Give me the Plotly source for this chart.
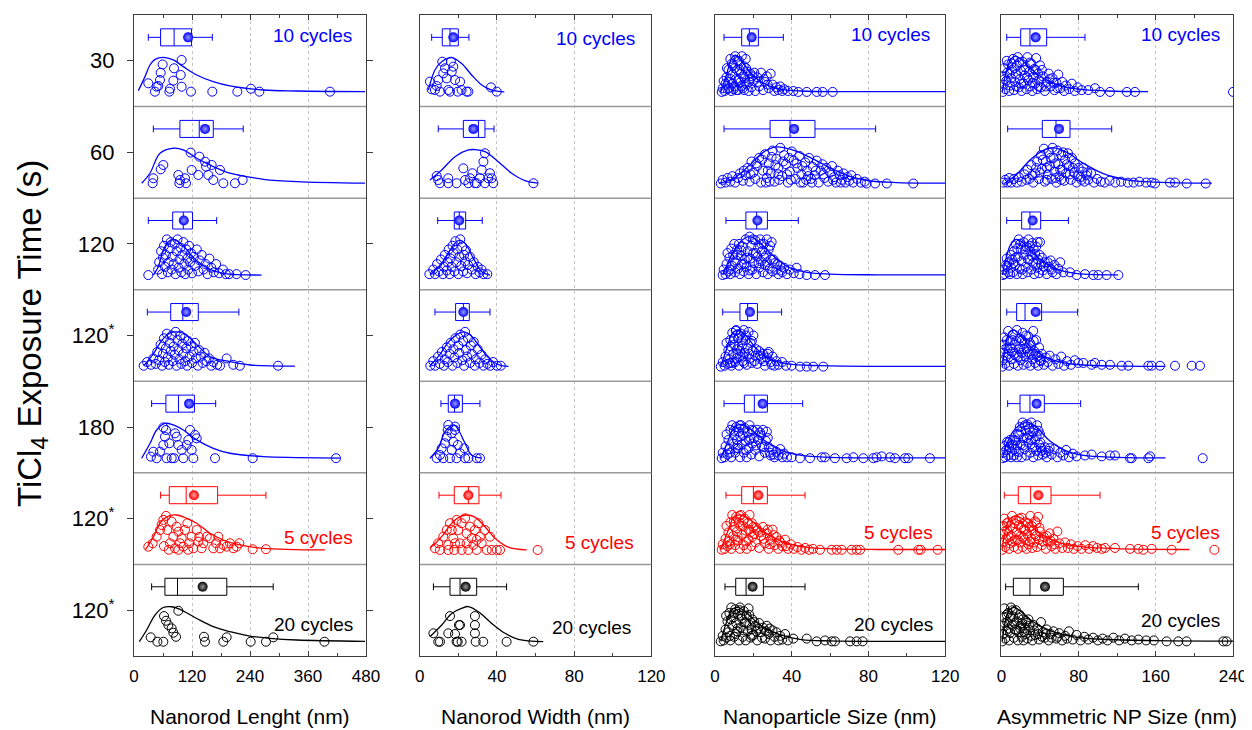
import plotly.graph_objects as go

# ---------------- data ----------------
row_labels = ["30", "60", "120", "120<sup>*</sup>", "180", "120<sup>*</sup>", "120<sup>*</sup>"]
row_colors = ["#0000ff"] * 5 + ["#ff0000", "#000000"]
row_light = ["#9a9aff"] * 5 + ["#ffa0a0", "#9a9a9a"]
cycle_labels = ["10 cycles", "5 cycles", "20 cycles"]

x_titles = ["Nanorod Lenght (nm)", "Nanorod Width (nm)", "Nanoparticle Size (nm)", "Asymmetric NP Size (nm)"]
x_max = [480, 120, 120, 240]
x_dtick = [120, 40, 40, 80]
x_minor = [60, 20, 20, 40]

# box statistics (rows top -> bottom)
length_lo = [29.6, 40, 29.6, 27.6, 36.5, 55, 36.5]
length_q1 = [55, 95, 80, 76, 66, 73, 64]
length_med = [83, 135, 102, 101, 92, 108, 90]
length_q3 = [119, 164, 121, 133, 125, 173, 192]
length_hi = [162, 226, 171, 217, 169, 273, 288]
length_mean = [112, 147, 103, 108, 114, 124, 142]

width_lo = [6.2, 9.6, 9.3, 7.9, 11, 10, 7.1]
width_q1 = [11.7, 22.6, 17.9, 18.6, 14.8, 17.9, 15.7]
width_med = [15.7, 30.4, 20.5, 22.6, 18, 25.2, 20.9]
width_q3 = [20, 33.8, 23.8, 25.7, 22.1, 30.7, 29.5]
width_hi = [25.5, 38.5, 32.4, 36.4, 31.2, 42.1, 45]
width_mean = [17.4, 27.8, 20.5, 22.6, 18.3, 25.2, 23.8]

np_lo = [4.7, 4.7, 5.7, 4, 4.7, 5.7, 5.2]
np_q1 = [13.9, 28.7, 16.1, 13, 15.3, 13.9, 10.8]
np_med = [17.9, 39.1, 21.7, 17, 20.5, 20, 16.2]
np_q3 = [22.6, 52.1, 27.3, 22.1, 27.3, 27.3, 25.2]
np_hi = [35.6, 83.7, 43.4, 34.7, 45.7, 46.9, 46.9]
np_mean = [19.1, 41.2, 22.1, 18.2, 24.8, 22.6, 19.6]

asym_lo = [5.5, 6.5, 5.5, 5.5, 6.5, 3, 4.4]
asym_q1 = [20, 42.4, 21, 15.8, 19.3, 17.5, 12.4]
asym_med = [29.6, 56.6, 29.6, 24.5, 29.6, 30.3, 29.6]
asym_q3 = [46.9, 71.1, 40.7, 41.7, 44.5, 51.4, 64.2]
asym_hi = [86.6, 114.3, 69.4, 79, 82.1, 102.2, 141.9]
asym_mean = [35.5, 59.7, 32.4, 35.5, 36.5, 38.3, 45.2]

# fitted distribution curves: (size, relative height in row)
length_fit = [
    [(9, .174), (22.8, .327), (33, .454), (43.5, .516), (60.7, .538), (81.4, .509), (102, .436), (129.7, .345), (164, .272), (198.6, .225), (267.6, .181), (336.6, .17), (478, .163)],
    [(15.9, .163), (33, .272), (53.8, .49), (81.4, .545), (102, .526), (129.7, .436), (164, .345), (198.6, .272), (233, .236), (267.6, .206), (336.6, .18), (478, .163)],
    [(40, .16), (50.3, .251), (60.7, .433), (71, .524), (80, .55), (91.7, .524), (109, .436), (129.7, .317), (157.3, .222), (184.8, .179), (264, .16)],
    [(20, .17), (40, .3), (58, .45), (72, .52), (85, .54), (100, .53), (112, .49), (130, .40), (157, .27), (199, .214), (240, .178), (333, .166)],
    [(15.9, .16), (33, .32), (46.9, .468), (64.1, .54), (81.4, .523), (102, .468), (129.7, .36), (164, .268), (198.6, .214), (267.6, .177), (336.6, .167), (426, .16)],
    [(23.4, .158), (40, .30), (53.8, .45), (67.6, .52), (88.3, .54), (109, .504), (129.7, .45), (157.3, .34), (184.8, .267), (219.3, .213), (267.6, .176), (395, .158)],
    [(11, .156), (26.2, .284), (43.4, .447), (60.7, .53), (77.9, .538), (95.2, .51), (129.7, .41), (164, .32), (198.6, .265), (240, .218), (281.4, .193), (336.6, .175), (478, .16)],
]
width_fit = [
    [(4.5, .18), (7.9, .40), (11.4, .49), (16.6, .534), (21.7, .47), (26.9, .345), (32.1, .236), (37.3, .18), (43.8, .16)],
    [(5.3, .198), (11.4, .308), (18.3, .453), (25.2, .526), (28.6, .53), (33.8, .508), (40.7, .398), (47.6, .272), (54.5, .192), (61.4, .163)],
    [(5.3, .16), (11.4, .288), (15.7, .433), (20.1, .54), (23.5, .506), (27.8, .343), (32.1, .196), (36.4, .16)],
    [(5, .16), (10, .28), (15, .43), (20, .52), (23, .54), (27, .49), (31, .38), (36, .25), (41, .18), (46, .163)],
    [(5.3, .16), (9.6, .27), (13.1, .45), (15.7, .505), (17.9, .523), (20.1, .468), (23.5, .323), (26.9, .195), (32.1, .16)],
    [(5.3, .176), (11.4, .303), (16.6, .45), (20.9, .522), (24.3, .54), (28.6, .516), (33.8, .412), (39, .286), (45.9, .188), (55.4, .158)],
    [(5.3, .21), (11.4, .338), (16.6, .465), (21.7, .52), (25.2, .54), (30.4, .483), (37.3, .356), (44.2, .248), (51.1, .182), (64, .156)],
]
np_fit = [
    [(3, .16), (6, .35), (9, .54), (11, .56), (14, .5), (18, .38), (24, .27), (32, .2), (45, .17), (70, .163), (120, .163)],
    [(2, .16), (10, .22), (18, .36), (25, .5), (32, .56), (40, .53), (50, .44), (60, .33), (70, .24), (80, .19), (95, .17), (120, .163)],
    [(4, .16), (8, .35), (13, .52), (18, .58), (23, .52), (30, .38), (38, .25), (48, .19), (60, .17), (85, .163), (120, .163)],
    [(3, .16), (6, .35), (9, .52), (12, .56), (16, .5), (21, .37), (28, .25), (38, .19), (55, .17), (85, .163), (120, .163)],
    [(3, .16), (7, .36), (10, .5), (14, .53), (19, .47), (26, .35), (34, .25), (45, .19), (60, .17), (85, .163), (120, .163)],
    [(3, .16), (7, .38), (10, .52), (14, .54), (19, .48), (26, .35), (35, .25), (47, .19), (62, .17), (85, .163), (120, .163)],
    [(3, .16), (6, .37), (9, .51), (12, .53), (17, .46), (24, .33), (33, .24), (45, .18), (60, .165), (85, .16), (120, .16)],
]
asym_fit = [
    [(1, .16), (5, .38), (10, .52), (15, .55), (22, .5), (32, .4), (45, .3), (60, .23), (80, .19), (110, .17), (152, .163)],
    [(3, .16), (15, .25), (30, .42), (45, .53), (55, .55), (68, .5), (85, .38), (105, .27), (130, .2), (160, .175), (218, .163)],
    [(1, .16), (5, .35), (10, .5), (16, .55), (24, .5), (35, .38), (50, .26), (65, .2), (85, .17), (121, .163)],
    [(1, .16), (4, .38), (8, .53), (13, .56), (20, .5), (30, .38), (45, .27), (65, .2), (90, .175), (130, .165), (170, .163)],
    [(1, .16), (5, .3), (12, .45), (20, .53), (28, .55), (38, .48), (50, .35), (65, .25), (85, .19), (120, .17), (170, .163)],
    [(1, .16), (4, .37), (9, .5), (15, .53), (23, .49), (35, .38), (50, .28), (70, .21), (100, .18), (140, .167), (195, .163)],
    [(1, .16), (4, .38), (8, .5), (13, .53), (20, .49), (32, .38), (50, .28), (75, .21), (110, .18), (160, .168), (240, .163)],
]

# individual measurements: (size, relative stacking height in row)
length_pts = [
    [(29.6, .254), (43.4, .163), (46.9, .217), (50.3, .225), (53.8, .29), (55.2, .37), (59.3, .46), (73.1, .163), (74.5, .195), (81.4, .283), (82.8, .418), (98.6, .509), (96.6, .345), (98.6, .217), (117.9, .163), (162, .163), (213.8, .163), (242, .195), (259.3, .163), (405.5, .163)],
    [(40, .217), (38.6, .163), (60.7, .362), (55.2, .315), (91.7, .253), (95.2, .198), (105.5, .217), (107.6, .163), (93.8, .163), (117.2, .497), (119.3, .308), (133.1, .253), (135.2, .453), (147, .398), (149, .344), (153.8, .253), (160.7, .362), (164, .198), (177.9, .308), (184.8, .163), (208.9, .163), (224.8, .198)],
    [(29.6, .16), (50, .22), (52, .30), (56, .42), (58, .17), (60, .35), (62, .48), (64, .25), (66, .38), (68, .55), (70, .19), (72, .30), (74, .45), (76, .52), (78, .22), (80, .36), (82, .28), (84, .50), (86, .17), (88, .42), (90, .55), (92, .24), (94, .33), (96, .46), (98, .19), (100, .38), (102, .52), (104, .28), (106, .17), (108, .44), (110, .34), (112, .22), (114, .48), (116, .30), (118, .40), (120, .18), (124, .36), (126, .26), (130, .44), (133, .20), (136, .32), (140, .38), (144, .22), (148, .28), (152, .17), (156, .34), (160, .24), (165, .19), (170, .28), (176, .18), (184, .22), (190, .17), (197, .17), (212, .17), (231, .16)],
    [(20, .17), (27, .21), (35, .18), (40, .25), (45, .19), (48, .32), (52, .23), (55, .40), (58, .17), (60, .30), (62, .47), (64, .21), (66, .36), (68, .52), (70, .26), (72, .18), (74, .42), (76, .33), (78, .50), (80, .22), (82, .38), (84, .29), (86, .54), (88, .17), (90, .45), (92, .34), (94, .24), (96, .50), (98, .19), (100, .41), (102, .30), (104, .47), (106, .22), (108, .36), (110, .17), (112, .44), (115, .27), (118, .38), (120, .20), (123, .32), (126, .42), (128, .25), (132, .17), (135, .34), (138, .27), (142, .20), (146, .31), (150, .22), (155, .25), (160, .17), (164, .21), (172, .18), (178, .17), (191.7, .25), (205.5, .18), (219, .17), (298, .17)],
    [(35, .177), (40, .231), (46.9, .16), (53.8, .231), (60.7, .304), (64.1, .395), (60.7, .497), (66.2, .468), (73.1, .323), (82.8, .16), (84.8, .432), (91.7, .304), (98.6, .25), (102, .16), (109, .304), (112.4, .359), (119.3, .25), (122.8, .16), (126.2, .414), (129.7, .377), (167.6, .16), (245.5, .16), (418, .16), (78, .16), (67.6, .16), (88.3, .395), (115.9, .468)],
    [(29.6, .194), (38.6, .231), (46.9, .303), (53.8, .376), (57.2, .431), (60.7, .486), (66.2, .53), (69, .376), (74.5, .231), (77.9, .467), (81.4, .303), (84.8, .176), (88.3, .412), (91.7, .358), (95.2, .231), (98.6, .286), (102, .194), (105.5, .376), (110.3, .45), (114.5, .231), (119.3, .303), (122.8, .176), (129.7, .376), (133.1, .249), (140, .176), (143.5, .231), (150.4, .303), (157.3, .286), (164, .176), (169.7, .231), (174.5, .303), (177.9, .176), (184.8, .213), (191.7, .194), (198.6, .231), (205.5, .176), (212.4, .194), (217.9, .231), (245.5, .166), (273, .166), (62, .2), (72, .16), (92, .16), (112, .16), (135, .3)],
    [(34.5, .204), (48.3, .156), (60.7, .156), (62.1, .436), (66.2, .385), (71, .338), (77.9, .302), (81.4, .254), (86.9, .21), (91.7, .494), (144.8, .21), (146.9, .156), (184.8, .156), (191.7, .204), (241.4, .156), (273, .156), (288.2, .204), (394, .156)],
]
width_pts = [
    [(5.3, .272), (6.2, .188), (7.9, .181), (8.8, .225), (9.6, .29), (10.5, .163), (11.7, .49), (12.2, .363), (13.1, .418), (14, .308), (14.8, .181), (15.7, .163), (16.2, .49), (16.6, .381), (17.4, .436), (18.3, .29), (19.7, .163), (20.9, .272), (21.7, .181), (24.3, .163), (25.2, .163), (36.9, .21), (39.9, .163)],
    [(8.8, .242), (9.6, .198), (10.5, .163), (14.8, .217), (14.8, .163), (19.1, .163), (22.6, .326), (23.5, .198), (25.2, .163), (26.1, .217), (27.3, .272), (28.6, .163), (29.5, .163), (31.2, .217), (32.1, .308), (33, .398), (33.8, .49), (33.8, .163), (35.5, .217), (36.4, .272), (37.3, .217), (38.1, .163), (58.9, .163)],
    [(5, .17), (7, .22), (8, .17), (9, .28), (10, .20), (11, .33), (12, .17), (12.5, .25), (13, .38), (14, .21), (14.5, .30), (15, .44), (15.5, .17), (16, .34), (16.5, .25), (17, .48), (17.5, .40), (18, .20), (18.5, .53), (19, .30), (19.5, .44), (20, .17), (20.5, .36), (21, .55), (21.5, .26), (22, .47), (22.5, .20), (23, .38), (23.5, .31), (24, .43), (24.5, .18), (25, .27), (26, .36), (27, .22), (28, .30), (29, .17), (30, .25), (31, .19), (32, .22), (33, .17), (35, .17)],
    [(5.5, .17), (7, .22), (8, .17), (9.5, .27), (10.5, .19), (11.5, .32), (12.5, .17), (13, .24), (14, .37), (14.5, .21), (15.5, .30), (16, .42), (17, .17), (17.5, .35), (18, .26), (18.5, .47), (19.5, .20), (20, .39), (20.5, .31), (21, .51), (22, .23), (22.5, .44), (23, .17), (23.5, .54), (24, .34), (24.5, .27), (25, .47), (26, .20), (26.5, .39), (27, .30), (28, .43), (28.5, .17), (29, .24), (30, .35), (31, .20), (32, .29), (33, .17), (34, .24), (35, .19), (36.5, .17), (38, .21), (40, .17), (42, .17)],
    [(8.8, .16), (10.5, .195), (11.4, .268), (12.2, .16), (13.1, .323), (14, .395), (14.5, .468), (14.8, .523), (15.7, .16), (16.6, .25), (17.4, .34), (18.3, .468), (19.1, .16), (19.7, .304), (20.9, .214), (23.1, .268), (23.5, .16), (25.2, .16), (29.5, .16), (31.2, .16), (16.6, .432), (18.3, .505)],
    [(7.9, .176), (9.6, .231), (10.5, .158), (12.2, .303), (14, .376), (14.8, .213), (15.7, .45), (16.6, .376), (17.4, .286), (17.9, .158), (19.1, .486), (20, .376), (20.9, .231), (21.7, .45), (23.5, .504), (24.3, .34), (25.2, .158), (26.1, .412), (26.9, .286), (27.8, .213), (28.6, .376), (29.5, .158), (30.4, .45), (31.2, .303), (32.1, .231), (33.8, .376), (34.7, .158), (36.4, .303), (37.3, .158), (39.9, .158), (41.6, .158), (61.1, .158), (24.3, .231), (29.5, .267), (18.3, .231), (14.8, .158), (21.7, .158)],
    [(7.1, .248), (9.6, .156), (10.5, .156), (14.8, .248), (15.7, .436), (18.3, .24), (19.1, .156), (19.7, .156), (20.3, .338), (20.9, .338), (21.7, .156), (28.6, .436), (28.6, .338), (28.6, .248), (29, .156), (32.9, .156), (45, .156), (58.9, .156)],
]
np_pts = [
    [(3.5, .16), (4, .20), (5, .17), (5.5, .25), (6, .32), (6.5, .19), (7, .40), (7.5, .27), (8, .52), (8.5, .17), (9, .35), (9.5, .45), (10, .22), (10.5, .55), (11, .30), (11.5, .40), (12, .18), (12.5, .50), (13, .26), (13.5, .36), (14, .55), (14.5, .20), (15, .44), (15.5, .31), (16, .52), (16.5, .24), (17, .38), (17.5, .17), (18, .30), (18.5, .36), (19, .21), (20, .28), (20.5, .37), (21, .17), (22, .32), (23, .22), (24, .37), (25, .18), (26, .27), (27, .33), (28, .20), (29, .36), (30, .24), (31, .17), (32, .21), (33, .18), (34, .22), (35, .17), (36, .19), (38, .17), (40.8, .17), (43.4, .16), (47.8, .16), (53, .16), (56.1, .16), (61.3, .16), (7.2, .20), (9.2, .25), (11.2, .18), (13.2, .45), (15.2, .18), (12.2, .29), (10.2, .42),
     (4.5, .28), (6.2, .42), (8.2, .30), (9.7, .19), (11.7, .50), (13.7, .22), (14.7, .33), (16.2, .42), (17.7, .27), (19.5, .33), (22.5, .27), (25.5, .30), (27.5, .24), (8.8, .47), (12.8, .40), (15.8, .26)],
    [(3, .16), (4, .20), (5.5, .17), (6.5, .22), (8, .18), (9, .24), (10.5, .17), (12, .22), (13, .27), (14.5, .19), (16, .25), (17, .33), (18, .18), (19, .40), (20, .28), (21, .21), (22, .35), (23, .44), (24, .17), (25, .30), (26, .48), (27, .22), (28, .38), (29, .27), (30, .52), (31, .18), (32, .43), (33, .33), (34, .55), (35, .24), (36, .47), (37, .37), (38, .17), (39, .29), (40, .51), (41, .41), (42, .21), (43, .33), (44, .46), (45, .26), (46, .17), (47, .39), (48, .30), (49, .44), (50, .21), (51, .34), (52, .25), (53, .41), (54, .17), (55, .30), (56, .37), (57, .22), (58, .33), (59, .18), (60, .28), (61, .35), (62, .23), (63, .17), (64, .30), (65, .25), (66, .20), (67, .27), (68, .17), (69, .23), (70, .19), (71, .25), (72, .17), (74, .21), (76, .17), (78, .18), (79, .16), (83.4, .16), (89.5, .16), (103.3, .16), (26.5, .17), (33.5, .20), (37.5, .26), (44.5, .17), (50.5, .17),
     (15, .30), (18.5, .26), (21.5, .38), (24.5, .42), (27.5, .30), (29.5, .45), (31.5, .36), (35.5, .40), (38.5, .44), (42.5, .38), (45.5, .35), (48.5, .24), (52.5, .30), (56.5, .26), (61.5, .20), (65.5, .17), (39.5, .20), (47.5, .20), (28.5, .18), (33, .26)],
    [(4, .16), (4.5, .22), (5.5, .17), (6, .28), (7, .20), (7.5, .35), (8, .17), (8.5, .45), (9, .26), (9.5, .38), (10, .50), (10.5, .19), (11, .32), (11.5, .44), (12, .23), (12.5, .50), (13, .17), (13.5, .37), (14, .28), (14.5, .47), (15, .20), (15.5, .33), (16, .55), (16.5, .25), (17, .42), (17.5, .17), (18, .58), (18.5, .34), (19, .48), (19.5, .22), (20, .40), (20.5, .29), (21, .54), (21.5, .17), (22, .36), (22.5, .46), (23, .24), (23.5, .55), (24, .31), (24.5, .42), (25, .19), (25.5, .50), (26, .27), (26.5, .37), (27, .55), (27.5, .17), (28, .44), (28.5, .23), (29, .33), (29.5, .52), (30, .20), (31, .29), (32, .22), (33, .17), (34, .26), (35, .19), (36, .24), (37.5, .17), (39, .22), (41, .18), (42.5, .24), (44, .17), (47.8, .16), (52.1, .16), (57.3, .16),
     (6.5, .40), (8.2, .22), (10.2, .30), (11.7, .38), (13.7, .43), (15.2, .28), (16.8, .35), (18.2, .21), (19.7, .55), (21.2, .40), (22.7, .29), (24.2, .50), (25.7, .35), (27.2, .30), (28.7, .48), (30.5, .33), (32.5, .28), (34.5, .21)],
    [(3, .16), (4, .21), (5, .17), (5.5, .27), (6.5, .19), (7, .34), (7.5, .24), (8, .45), (8.5, .17), (9, .53), (9.5, .30), (10, .40), (10.5, .21), (11, .56), (11.5, .35), (12, .47), (12.5, .17), (13, .27), (13.5, .52), (14, .39), (14.5, .22), (15, .56), (15.5, .31), (16, .45), (16.5, .18), (17, .36), (17.5, .54), (18, .25), (18.5, .42), (19, .20), (19.5, .33), (20, .50), (21, .28), (22, .19), (23, .33), (24, .24), (25, .30), (26, .17), (27, .26), (28, .32), (29, .21), (30, .27), (31, .17), (32, .22), (33, .18), (35, .21), (37, .17), (39.9, .17), (44.3, .16), (47.8, .16), (51.2, .16), (56.4, .16), (9.2, .20), (11.2, .25), (13.2, .33), (15.2, .20), (12.2, .38),
     (6, .42), (7.8, .20), (9.8, .47), (11.8, .30), (13.8, .45), (14.8, .27), (16.2, .50), (17.8, .30), (19.2, .44), (20.5, .22), (21.5, .35), (23.5, .28), (25.5, .22), (27.5, .30), (29.5, .18), (8.2, .38), (10.8, .55), (12.8, .50)],
    [(3.5, .16), (4, .22), (5, .17), (5.5, .29), (6.5, .20), (7, .36), (7.5, .26), (8, .47), (8.5, .17), (9, .52), (9.5, .32), (10, .41), (10.5, .22), (11, .50), (11.5, .36), (12, .27), (12.5, .45), (13, .17), (13.5, .52), (14, .31), (14.5, .41), (15, .22), (15.5, .49), (16, .35), (16.5, .17), (17, .44), (17.5, .27), (18, .52), (18.5, .38), (19, .20), (19.5, .32), (20, .46), (21, .25), (22, .47), (22.5, .36), (23, .18), (24, .41), (24.5, .29), (25, .47), (26, .22), (26.5, .35), (27, .45), (28, .28), (29, .19), (30, .25), (31, .17), (32, .23), (33, .19), (34, .26), (35, .17), (36, .21), (37.5, .17), (39.9, .17), (44.3, .16), (49.5, .16), (55.6, .17), (57.3, .17), (62.5, .16), (68.6, .16), (72.1, .17), (77.3, .16), (82.5, .16), (84.2, .17), (86.9, .18), (91.2, .17), (93.8, .16), (99, .16), (100.7, .16), (112, .16),
     (6, .42), (7.8, .22), (9.8, .46), (11.8, .30), (13.2, .40), (14.8, .47), (16.2, .25), (17.8, .36), (19.2, .47), (20.5, .38), (21.5, .30), (23.5, .44), (25.5, .28), (27.5, .38), (28.5, .22), (30.5, .20), (12.8, .52), (10.8, .27)],
    [(3.5, .16), (4, .22), (5, .17), (5.5, .28), (6.5, .20), (7, .35), (7.5, .25), (8, .46), (8.5, .17), (9, .54), (9.5, .31), (10, .41), (10.5, .21), (11, .52), (11.5, .36), (12, .26), (12.5, .46), (13, .17), (13.5, .54), (14, .32), (14.5, .42), (15, .21), (15.5, .50), (16, .37), (16.5, .17), (17, .45), (17.5, .27), (18, .54), (18.5, .35), (19, .20), (19.5, .30), (20, .41), (21, .24), (22, .37), (23, .18), (24, .31), (25, .41), (26, .23), (27, .34), (28, .17), (29, .27), (30, .38), (31, .21), (32, .30), (33, .17), (34, .24), (35, .20), (36.5, .27), (38, .17), (39.5, .22), (41, .17), (43, .19), (45, .16), (47, .18), (49, .16), (51, .17), (54.7, .16), (60.8, .16), (63.4, .16), (66, .16), (71.2, .16), (73.8, .16), (75.6, .16), (95.5, .16), (106, .16), (107.2, .16), (116, .16),
     (6, .42), (7.8, .22), (9.8, .47), (11.8, .30), (13.2, .42), (14.8, .48), (16.2, .25), (17.8, .38), (19.2, .45), (20.5, .33), (21.5, .40), (23.5, .35), (25.5, .28), (27.5, .38), (28.5, .22), (30.5, .32), (12.8, .53), (10.8, .27), (33.5, .26), (37, .20)],
    [(3, .16), (4, .22), (4.5, .17), (5.5, .29), (6, .20), (6.5, .38), (7, .26), (7.5, .47), (8, .17), (8.5, .53), (9, .33), (9.5, .42), (10, .21), (10.5, .51), (11, .36), (11.5, .27), (12, .46), (12.5, .17), (13, .53), (13.5, .31), (14, .41), (14.5, .21), (15, .49), (15.5, .37), (16, .17), (16.5, .44), (17, .27), (17.5, .52), (18, .34), (18.5, .20), (19, .29), (19.5, .40), (20, .23), (21, .33), (22, .17), (23, .36), (24, .26), (25, .31), (26, .19), (27, .33), (28, .24), (29, .17), (30, .28), (31, .21), (32, .26), (33, .17), (34, .22), (35, .18), (36.5, .24), (38, .17), (40.8, .19), (47.8, .19), (53, .16), (57.3, .17), (60.8, .16), (62.5, .16), (70.4, .16), (73.8, .16), (76.9, .16),
     (5.8, .44), (7.8, .22), (9.8, .47), (11.8, .30), (13.2, .44), (14.8, .28), (16.2, .36), (17.8, .45), (19.2, .22), (20.5, .37), (21.5, .27), (22.5, .30), (24.5, .20), (26.5, .27), (28.5, .30), (12.8, .50), (10.8, .24), (8.2, .40)],
]
asym_pts = [
    [(1.5, .16), (2, .24), (2.5, .33), (3, .42), (4, .19), (5, .28), (6, .37), (7, .46), (8, .17), (9, .23), (10, .31), (11, .40), (12, .52), (13, .18), (14, .27), (15, .35), (16, .45), (17, .54), (18, .21), (19, .30), (20, .39), (21, .17), (22, .49), (23, .25), (24, .34), (25, .43), (26, .19), (27, .54), (28, .29), (29, .38), (30, .22), (31, .47), (32, .17), (33, .32), (34, .41), (35, .25), (36, .53), (37, .19), (38, .36), (39, .29), (40, .45), (41, .21), (43, .33), (45, .17), (47, .27), (49, .36), (51, .22), (53, .31), (55, .18), (57, .26), (59, .35), (61, .20), (63, .27), (65, .17), (67, .23), (70, .19), (73, .25), (76, .17), (79, .21), (83.2, .18), (90, .18), (97, .20), (102.2, .16), (112.5, .16), (130, .16), (138.4, .16), (240, .16),
     (3.5, .30), (5.5, .50), (8.5, .36), (10.5, .47), (13.5, .42), (15.5, .22), (18.5, .48), (20.5, .25), (23.5, .40), (26.5, .32), (29.5, .48), (32.5, .26), (35.5, .40), (38.5, .22), (42, .40), (46, .22), (50, .30), (54, .26), (58, .20)],
    [(2, .17), (4, .20), (6, .17), (8, .22), (10, .17), (13, .21), (16, .17), (18, .23), (21, .18), (24, .26), (27, .31), (29, .21), (31, .36), (33, .17), (35, .27), (37, .40), (39, .21), (41, .47), (42, .32), (44, .54), (45, .18), (46, .40), (48, .26), (49, .50), (50, .35), (52, .21), (53, .55), (54, .44), (55, .29), (57, .17), (58, .52), (59, .37), (60, .24), (62, .47), (63, .31), (65, .19), (66, .42), (67, .27), (69, .49), (70, .35), (72, .20), (73, .44), (75, .28), (76, .38), (78, .17), (80, .33), (82, .23), (84, .29), (86, .18), (88, .25), (90, .20), (93, .27), (96, .17), (99, .21), (103, .18), (107, .17), (112, .19), (118, .17), (124, .18), (131, .17), (137, .17), (143, .18), (150, .17), (155.7, .17), (159.2, .16), (174.7, .17), (179.9, .17), (192, .16), (211.7, .16),
     (26, .20), (32, .25), (36, .33), (40, .28), (43, .42), (47, .33), (51, .44), (56, .38), (61, .31), (64, .50), (68, .37), (71, .26), (74, .33), (79, .24), (83, .20), (85, .33), (89, .28), (56, .22), (47, .20), (62, .20)],
    [(1.5, .16), (2.5, .22), (3.5, .17), (5.5, .34), (6, .26), (7, .19), (8, .30), (9, .17), (10, .24), (11, .33), (12, .19), (13, .42), (14, .27), (15, .50), (16, .17), (17, .36), (18, .55), (19, .23), (20, .44), (21, .31), (22, .17), (23, .52), (24, .38), (25, .25), (26, .47), (27, .19), (28, .55), (29, .33), (30, .42), (31, .22), (32, .51), (33, .29), (34, .17), (35, .39), (36, .47), (37, .24), (38, .33), (39, .18), (40, .52), (41, .28), (43, .21), (45, .30), (47, .17), (49, .25), (51, .32), (53, .19), (55, .27), (57, .17), (59, .23), (61, .30), (64.2, .19), (71.1, .19), (78, .16), (86.6, .17), (95.3, .16), (100.4, .16), (109, .16), (121.2, .16),
     (4.5, .27), (9.5, .38), (12.5, .29), (14.5, .35), (16.5, .45), (19.5, .50), (21.5, .22), (24.5, .44), (27.5, .33), (29.5, .48), (31.5, .37), (33.5, .44), (35.5, .28), (37.5, .52), (39.5, .38), (42, .35), (44, .25), (48, .30), (52, .22)],
    [(1, .16), (1.5, .23), (2, .31), (2.5, .40), (3, .48), (4, .19), (5, .27), (6, .36), (7, .55), (8, .17), (9, .44), (10, .24), (11, .32), (12, .51), (13, .19), (14, .40), (15, .28), (16, .56), (17, .17), (18, .35), (19, .47), (20, .23), (21, .31), (22, .53), (23, .18), (24, .42), (25, .27), (26, .36), (27, .20), (28, .49), (29, .30), (30, .17), (31, .39), (32, .24), (33, .55), (34, .33), (35, .20), (36, .45), (37, .27), (38, .17), (39, .37), (40, .23), (42, .30), (44, .18), (46, .26), (48, .21), (50, .28), (53, .17), (56, .24), (59, .19), (62, .27), (65, .17), (68, .22), (72, .18), (76, .23), (79.7, .20), (84.9, .20), (93.5, .18), (97, .20), (103.9, .18), (112.5, .18), (124.6, .17), (131.5, .17), (152.3, .17), (155.7, .17), (164.4, .17), (179.9, .17), (197.2, .17), (205.8, .17),
     (3.5, .35), (5.5, .45), (7.5, .30), (9.5, .36), (11.5, .45), (13.5, .30), (15.5, .44), (17.5, .27), (19.5, .38), (21.5, .45), (23.5, .35), (25.5, .50), (27.5, .32), (29.5, .42), (31.5, .29), (33.5, .44), (35.5, .30), (38.5, .28), (41, .22)],
    [(1.5, .16), (2, .22), (3, .29), (4, .17), (5, .25), (6, .34), (7, .19), (8, .28), (9, .36), (10, .17), (11, .23), (12, .31), (13, .19), (14, .26), (15, .35), (16, .17), (17, .42), (18, .23), (19, .50), (20, .31), (21, .17), (22, .55), (23, .38), (24, .26), (25, .46), (26, .19), (27, .53), (28, .33), (29, .41), (30, .22), (31, .55), (32, .28), (33, .17), (34, .47), (35, .36), (36, .24), (37, .52), (38, .19), (39, .31), (40, .42), (41, .27), (43, .20), (45, .28), (47, .17), (49, .24), (52, .20), (55, .26), (58, .17), (61, .22), (64, .19), (67, .25), (70, .17), (74, .21), (78, .18), (86.6, .19), (93.5, .20), (103.9, .18), (112.5, .19), (117.7, .19), (133.3, .16), (135, .16), (152.3, .16), (154, .18), (208.6, .16),
     (7.5, .33), (10.5, .30), (13.5, .36), (16.5, .30), (18.5, .42), (20.5, .45), (22.5, .30), (24.5, .52), (26.5, .38), (28.5, .48), (30.5, .36), (32.5, .44), (34.5, .28), (36.5, .40), (38.5, .46), (40.5, .33), (42, .24), (46, .22), (50, .27)],
    [(1, .16), (1.5, .24), (2, .33), (2.5, .42), (3, .50), (4, .19), (5, .28), (6, .37), (7, .46), (8, .17), (9, .23), (10, .31), (11, .53), (12, .40), (13, .19), (14, .27), (15, .48), (16, .35), (17, .17), (18, .43), (19, .24), (20, .31), (21, .51), (22, .19), (23, .38), (24, .27), (25, .46), (26, .17), (27, .33), (28, .22), (29, .41), (30, .53), (31, .28), (32, .18), (33, .37), (34, .24), (35, .47), (36, .31), (37, .19), (38, .52), (39, .27), (40, .36), (42, .21), (44, .30), (46, .17), (48, .25), (50, .34), (52, .20), (54, .28), (56, .17), (58, .36), (60, .23), (63, .18), (66, .24), (69, .18), (72, .22), (75, .17), (79, .20), (83, .17), (87, .21), (91, .17), (95, .20), (99, .18), (104, .17), (107.4, .18), (117.7, .18), (133.3, .17), (141.9, .17), (147.1, .16), (155.7, .17), (176.4, .16), (220.7, .16),
     (3.5, .36), (5.5, .45), (7.5, .30), (9.5, .42), (11.5, .25), (13.5, .45), (16.5, .27), (18.5, .50), (20.5, .40), (22.5, .30), (24.5, .38), (27.5, .45), (29.5, .25), (31.5, .42), (34.5, .33), (36.5, .45), (39.5, .40), (43, .25), (47, .31), (51, .26), (55, .22)],
    [(1, .16), (1.5, .24), (2, .33), (2.5, .42), (3, .52), (4, .19), (5, .28), (6, .37), (7, .47), (8, .17), (9, .25), (10, .53), (11, .34), (12, .43), (13, .20), (14, .29), (15, .50), (16, .38), (17, .17), (18, .26), (19, .45), (20, .33), (21, .21), (22, .40), (23, .17), (24, .30), (25, .24), (26, .36), (27, .19), (28, .40), (30, .28), (32, .17), (33, .34), (35, .23), (37, .30), (39, .18), (41, .37), (43, .26), (45, .20), (47, .29), (49, .17), (51, .24), (54, .27), (57, .19), (60, .25), (63, .17), (66, .22), (70, .27), (74, .18), (78, .23), (82, .17), (86, .21), (90, .18), (95, .20), (100, .17), (105, .19), (110, .17), (116, .20), (122, .17), (128, .19), (135, .17), (142, .18), (150, .17), (158, .17), (171.2, .16), (183.3, .16), (191.9, .16), (230, .16), (233.4, .16),
     (3.5, .36), (5.5, .45), (7.5, .30), (9.5, .42), (11.5, .50), (13.5, .36), (15.5, .28), (17.5, .42), (19.5, .30), (21.5, .36), (23.5, .26), (25.5, .38), (29, .33), (31, .22), (34, .28), (38, .24), (42, .21), (46, .24), (52, .20), (58, .21), (68, .19)],
]

# cycle labels: (column, row, x, relative height, text index)
label_col = [0, 0, 0, 1, 1, 1, 2, 2, 2, 3, 3, 3]
label_row = [0, 5, 6, 0, 5, 6, 0, 5, 6, 0, 5, 6]
label_x = [370, 380.7, 372, 91, 92.9, 89.2, 91.2, 95.4, 92.8, 185.1, 190.8, 186]
label_h = [0.78, 0.289, 0.349, 0.738, 0.239, 0.306, 0.79, 0.354, 0.349, 0.787, 0.354, 0.388]
label_text = [0, 1, 2, 0, 1, 2, 0, 1, 2, 0, 1, 2]

# ---------------- layout constants ----------------
OFF = 8  # page body margin of the html page
W, H = 1252 - OFF, 730 - OFF
ML, MR, MT, MB = 134 - OFF, 19, 15 - OFF, 74
PW = W - ML - MR
PH = H - MT - MB
panel_px = [(134, 366), (419.7, 651.4), (715, 945.3), (1001.4, 1233)]  # page pixels
FONT = "Liberation Sans, Arial, sans-serif"
NROW = 7
BOX_H = 0.756
FRAME = "#3c3c3c"

fits = [length_fit, width_fit, np_fit, asym_fit]
pts = [length_pts, width_pts, np_pts, asym_pts]
boxes = [
    (length_lo, length_q1, length_med, length_q3, length_hi, length_mean),
    (width_lo, width_q1, width_med, width_q3, width_hi, width_mean),
    (np_lo, np_q1, np_med, np_q3, np_hi, np_mean),
    (asym_lo, asym_q1, asym_med, asym_q3, asym_hi, asym_mean),
]

fig = go.Figure()
shapes = []
annotations = []

for c in range(4):
    xa = "x" if c == 0 else f"x{c+1}"
    ya = "y" if c == 0 else f"y{c+1}"
    lo, q1, med, q3, hi, mean = boxes[c]
    for r in range(NROW):
        base = NROW - 1 - r
        col = row_colors[r]
        fx = [p[0] for p in fits[c][r]]
        fy = [base + p[1] for p in fits[c][r]]
        fig.add_trace(go.Scatter(x=fx, y=fy, mode="lines", xaxis=xa, yaxis=ya,
                                 line=dict(color=col, width=1.3, shape="spline", smoothing=1.0),
                                 hoverinfo="skip", showlegend=False))
        px_ = [p[0] for p in pts[c][r]]
        py_ = [base + p[1] for p in pts[c][r]]
        fig.add_trace(go.Scatter(x=px_, y=py_, mode="markers", xaxis=xa, yaxis=ya,
                                 marker=dict(symbol="circle-open", size=9, color=col, line=dict(width=1, color=col)),
                                 hoverinfo="skip", showlegend=False))
        fig.add_trace(go.Box(orientation="h", y=[base + BOX_H], q1=[q1[r]], median=[med[r]], q3=[q3[r]],
                             lowerfence=[lo[r]], upperfence=[hi[r]], width=0.186, whiskerwidth=0.4,
                             line=dict(color=col, width=1), fillcolor="rgba(0,0,0,0)", boxpoints=False,
                             xaxis=xa, yaxis=ya, hoverinfo="skip", showlegend=False))
        fig.add_trace(go.Scatter(x=[mean[r]], y=[base + BOX_H], mode="markers", xaxis=xa, yaxis=ya,
                                 marker=dict(symbol="circle", size=10, color=col,
                                             gradient=dict(type="radial", color=row_light[r]),
                                             line=dict(width=0)),
                                 hoverinfo="skip", showlegend=False))
    for k in range(1, NROW):
        shapes.append(dict(type="line", xref=f"{xa} domain", yref=ya, x0=0, x1=1, y0=k, y1=k,
                           line=dict(color="#9a9a9a", width=1.5), layer="above"))

    a, b = panel_px[c]
    dom = [(a - OFF - ML) / PW, (b - OFF - ML) / PW]
    xkey = "xaxis" if c == 0 else f"xaxis{c+1}"
    ykey = "yaxis" if c == 0 else f"yaxis{c+1}"
    fig.layout[xkey] = dict(domain=dom, anchor=ya, range=[0, x_max[c]], tick0=0, dtick=x_dtick[c],
                            ticks="inside", ticklen=5, tickwidth=1, tickcolor=FRAME,
                            minor=dict(dtick=x_minor[c], tick0=0, ticks="inside", ticklen=3, tickcolor=FRAME, showgrid=False),
                            showline=True, linecolor=FRAME, linewidth=1.3, mirror="ticks",
                            showgrid=True, gridcolor="#c4c4c4", griddash="dot", gridwidth=1,
                            zeroline=False, tickfont=dict(family=FONT, size=17, color="#000"),
                            ticklabelstandoff=4, fixedrange=True)
    ydict = dict(domain=[0, 1], anchor=xa, range=[0, NROW], showline=True, linecolor=FRAME, linewidth=1.3,
                 showgrid=False, zeroline=False, fixedrange=True)
    if c == 0:
        ydict.update(tickmode="array", tickvals=[NROW - 1 - r + 0.5 for r in range(NROW)], ticktext=row_labels,
                     ticks="outside", ticklen=6, tickcolor=FRAME, mirror="ticks",
                     tickfont=dict(family=FONT, size=22, color="#000"), ticklabelstandoff=8)
    else:
        ydict.update(showticklabels=False, ticks="", mirror=True)
    fig.layout[ykey] = ydict

    annotations.append(dict(text=x_titles[c], xref="paper", yref="paper", x=(dom[0] + dom[1]) / 2,
                            y=(PH - (716 - 15)) / PH, xanchor="center", yanchor="middle", showarrow=False,
                            font=dict(family=FONT, size=21, color="#000")))

for j in range(len(label_col)):
    c = label_col[j]
    r = label_row[j]
    xa = "x" if c == 0 else f"x{c+1}"
    ya = "y" if c == 0 else f"y{c+1}"
    annotations.append(dict(text=cycle_labels[label_text[j]], xref=xa, yref=ya, x=label_x[j],
                            y=NROW - 1 - r + label_h[j], xanchor="center", yanchor="middle", showarrow=False,
                            font=dict(family=FONT, size=19, color=row_colors[r])))

annotations.append(dict(text="TiCl<sub>4</sub> Exposure Time (s)", xref="paper", yref="paper",
                        x=(32 - 134) / PW, y=(PH - (334 - 15)) / PH, textangle=-90,
                        xanchor="center", yanchor="middle", showarrow=False,
                        font=dict(family=FONT, size=33, color="#000")))

fig.update_layout(width=W, height=H, margin=dict(l=ML, r=MR, t=MT, b=MB, autoexpand=False),
                  paper_bgcolor="white", plot_bgcolor="white", boxmode="overlay",
                  shapes=shapes, annotations=annotations, showlegend=False)

fig.write_html("out.html")
